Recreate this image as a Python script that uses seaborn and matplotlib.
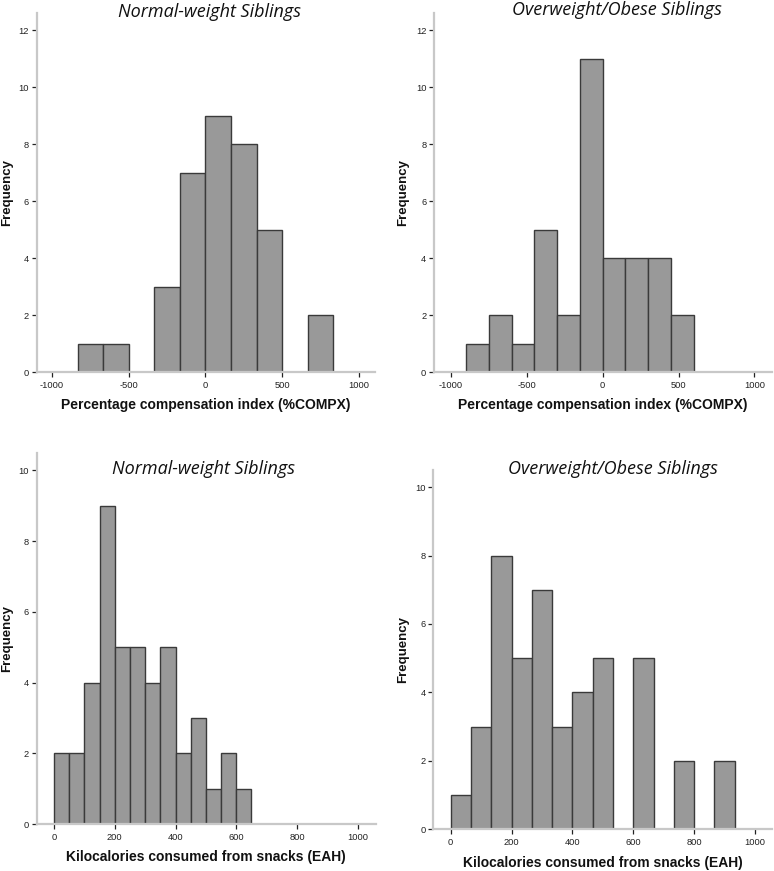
import matplotlib
matplotlib.use("Agg")
import matplotlib.pyplot as plt
import seaborn as sns
import numpy as np
import pandas as pd

# ---- data: histogram bin edges and counts ----
compx_nw_edges = [-833.3, -666.7, -500, -333.3, -166.7, 0, 166.7, 333.3, 500, 666.7, 833.3]
compx_nw_counts = [1, 1, 0, 3, 7, 9, 8, 5, 0, 2]

compx_ow_edges = [-900, -750, -600, -450, -300, -150, 0, 150, 300, 450, 600]
compx_ow_counts = [1, 2, 1, 5, 2, 11, 4, 4, 4, 2]

eah_nw_edges = [0, 50, 100, 150, 200, 250, 300, 350, 400, 450, 500, 550, 600, 650]
eah_nw_counts = [2, 2, 4, 9, 5, 5, 4, 5, 2, 3, 1, 2, 1]

eah_ow_edges = [0, 66.7, 133.3, 200, 266.7, 333.3, 400, 466.7, 533.3, 600, 666.7,
                733.3, 800, 866.7, 933.3]
eah_ow_counts = [1, 3, 8, 5, 7, 3, 4, 5, 0, 5, 0, 2, 0, 2]

titles = ["Normal-weight Siblings", "Overweight/Obese Siblings",
          "Normal-weight Siblings", "Overweight/Obese Siblings"]
xlabels = ["Percentage compensation index (%COMPX)", "Percentage compensation index (%COMPX)",
           "Kilocalories consumed from snacks (EAH)", "Kilocalories consumed from snacks (EAH)"]
ylabel = "Frequency"
compx_ticks = [-1000, -500, 0, 500, 1000]
eah_ticks = [0, 200, 400, 600, 800, 1000]

sns.set_theme(style="white")
plt.rcParams['font.family'] = ['Liberation Sans', 'DejaVu Sans']
plt.rcParams['axes.unicode_minus'] = False

W, H = 774, 871
fig = plt.figure(figsize=(W / 100, H / 100), dpi=100)

def px_axes(left, top, right, bottom):
    return fig.add_axes([left / W, 1 - bottom / H, (right - left) / W, (bottom - top) / H])

panels = [
    dict(box=(36.7, 13, 375, 372), edges=compx_nw_edges, counts=compx_nw_counts,
         xlim=(-1100, 1105), ylim=(0, 12.6), xt=compx_ticks, yt=[0, 2, 4, 6, 8, 10, 12],
         title_xy=(209, 12), ylab_x=-0.088, xlab_y=-0.092),
    dict(box=(434, 13, 771.7, 372), edges=compx_ow_edges, counts=compx_ow_counts,
         xlim=(-1112, 1114), ylim=(0, 12.6), xt=compx_ticks, yt=[0, 2, 4, 6, 8, 10, 12],
         title_xy=(617, 10), ylab_x=-0.092, xlab_y=-0.092),
    dict(box=(36.7, 452.7, 375.7, 824), edges=eah_nw_edges, counts=eah_nw_counts,
         xlim=(-57, 1059), ylim=(0, 10.5), xt=eah_ticks, yt=[0, 2, 4, 6, 8, 10],
         title_xy=(203, 469), ylab_x=-0.088, xlab_y=-0.089),
    dict(box=(433.3, 470, 771.7, 829.3), edges=eah_ow_edges, counts=eah_ow_counts,
         xlim=(-57, 1055), ylim=(0, 10.5), xt=eah_ticks, yt=[0, 2, 4, 6, 8, 10],
         title_xy=(613, 469), ylab_x=-0.09, xlab_y=-0.094),
]

for i, p in enumerate(panels):
    ax = px_axes(*p["box"])
    edges = list(p["edges"])
    centers = [(a + b) / 2 for a, b in zip(edges[:-1], edges[1:])]
    df = pd.DataFrame({"value": centers, "count": p["counts"]})
    sns.histplot(data=df, x="value", weights="count", bins=edges, ax=ax,
                 color="#999999", edgecolor="#3a3a3a", linewidth=1.0, alpha=1.0)
    ax.set_xlim(*p["xlim"])
    ax.set_ylim(*p["ylim"])
    ax.set_xticks(p["xt"])
    ax.set_yticks(p["yt"])
    ax.tick_params(axis="both", which="major", labelsize=6.7, colors="#222222",
                   length=3.5, width=0.9, direction="out", pad=2,
                   bottom=True, left=True)
    ax.tick_params(axis="x", pad=3)
    for s in ["top", "right"]:
        ax.spines[s].set_visible(False)
    for s in ["left", "bottom"]:
        ax.spines[s].set_color("#c8c8c8")
        ax.spines[s].set_linewidth(1.6)
    ax.set_xlabel(xlabels[i], fontsize=10, fontweight="bold", color="#111111")
    ax.set_ylabel(ylabel, fontsize=9.5, fontweight="bold", color="#111111")
    ax.xaxis.label.set_va("center")
    ax.yaxis.label.set_va("center")
    ax.xaxis.set_label_coords(0.5, p["xlab_y"])
    ax.yaxis.set_label_coords(p["ylab_x"], 0.5)
    ax.grid(False)
    ax.set_facecolor("white")
    tx, ty = p["title_xy"]
    fig.text(tx / W, 1 - ty / H, titles[i], ha="center", va="center",
             fontsize=13, style="italic", family=["Open Sans", "DejaVu Sans"], color="#111111")

fig.savefig("out.png", dpi=100, facecolor="white")
